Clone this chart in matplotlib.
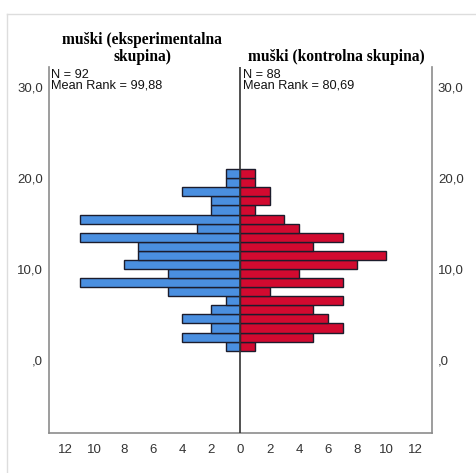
import matplotlib
matplotlib.use("Agg")
import matplotlib.pyplot as plt
from matplotlib.lines import Line2D

# Data (bins of width 1, from bottom [1,2) to top [20,21))
bin_starts = list(range(1, 21))
exp_counts = [1, 4, 2, 4, 2, 1, 5, 11, 5, 8, 7, 7, 11, 3, 11, 2, 2, 4, 1, 1]
ctrl_counts = [1, 5, 7, 6, 5, 7, 2, 7, 4, 8, 10, 5, 7, 4, 3, 1, 2, 2, 1, 1]
title_left = "muški (eksperimentalna\nskupina)"
title_right = "muški (kontrolna skupina)"
note_left = "N = 92\nMean Rank = 99,88"
note_right = "N = 88\nMean Rank = 80,69"
y_ticks = [0, 10, 20, 30]
y_labels = [",0", "10,0", "20,0", "30,0"]
x_ticks = [-12, -10, -8, -6, -4, -2, 0, 2, 4, 6, 8, 10, 12]
x_labels = ["12", "10", "8", "6", "4", "2", "0", "2", "4", "6", "8", "10", "12"]

W, H = 477, 473
fig = plt.figure(figsize=(W / 100, H / 100), dpi=100)
fig.patch.set_facecolor("white")

left_px, right_px, top_px, bot_px = 49.3, 431.7, 67.5, 432.7
ax = fig.add_axes([left_px / W, 1 - bot_px / H, (right_px - left_px) / W, (bot_px - top_px) / H])

blue = "#4a8fe0"
red = "#d20a30"
edge = "#1c1c2c"
ax.barh(bin_starts, [-c for c in exp_counts], height=1, align="edge", left=0,
        color=blue, edgecolor=edge, linewidth=1.0, zorder=2)
ax.barh(bin_starts, ctrl_counts, height=1, align="edge", left=0,
        color=red, edgecolor=edge, linewidth=1.0, zorder=2)

ax.set_xlim(-13.1, 13.1)
ax.set_ylim(-8.04, 32.2)
ax.axvline(0, color="#333333", linewidth=1.2, zorder=3)

for s in ["left", "right", "bottom"]:
    ax.spines[s].set_color("#8c8c8c")
    ax.spines[s].set_linewidth(1.2)
ax.spines["top"].set_visible(False)

ax.set_yticks(y_ticks)
ax.set_yticklabels(y_labels)
ax.set_xticks(x_ticks)
ax.set_xticklabels(x_labels)
ax.tick_params(axis="y", length=0, labelsize=9.5, labelcolor="#333333", pad=4.5,
               left=False, right=False, labelleft=True, labelright=True)
ax.tick_params(axis="x", length=0, labelsize=9.5, labelcolor="#333333", pad=8)
for lab in ax.get_yticklabels() + ax.get_xticklabels():
    lab.set_fontfamily("Liberation Sans")

# Group annotations
ax.text(-13.1 + 0.15, 32.0, note_left, ha="left", va="top", fontsize=9.2,
        family="Liberation Sans", color="#111111", linespacing=0.82)
ax.text(0.15, 32.0, note_right, ha="left", va="top", fontsize=9.2,
        family="Liberation Sans", color="#111111", linespacing=0.82)

# Titles
fig.text(142 / W, 1 - 65 / H, title_left, ha="center", va="bottom", fontsize=11.2,
         family="Liberation Serif", fontweight="bold", linespacing=1.05)
fig.text(336 / W, 1 - 65 / H, title_right, ha="center", va="bottom", fontsize=11.2,
         family="Liberation Serif", fontweight="bold")

# Faint outer frame
fig.add_artist(Line2D([7.5 / W, 7.5 / W], [0, 1 - 14 / H], transform=fig.transFigure,
                      color="#dddddd", linewidth=1))
fig.add_artist(Line2D([7.5 / W, 1], [1 - 14 / H, 1 - 14 / H], transform=fig.transFigure,
                      color="#dddddd", linewidth=1))

fig.savefig("out.png", dpi=100, facecolor="white")
